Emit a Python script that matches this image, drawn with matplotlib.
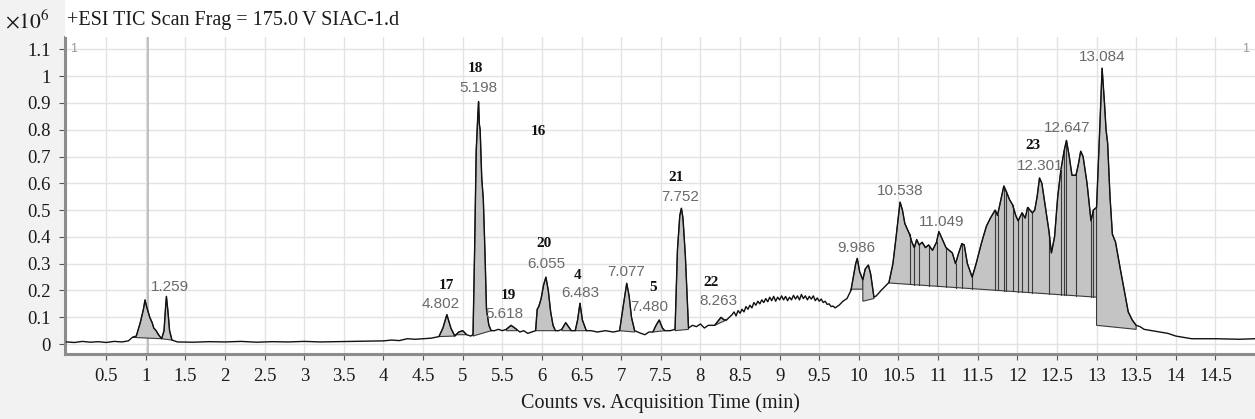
import numpy as np
import matplotlib.pyplot as plt
from matplotlib.patches import Rectangle

plt.rcParams['mathtext.fontset'] = 'stix'

# TIC trace, time (min) vs counts (x10^6)
# early part, 0 - 8.33 min
early_t = [0.00, 0.10, 0.20, 0.30, 0.40, 0.50, 0.60, 0.70, 0.78, 0.83, 0.88, 0.93, 0.97, 0.99,
           1.01, 1.03, 1.05, 1.08, 1.10, 1.13, 1.16, 1.20, 1.23, 1.25, 1.26, 1.28, 1.30, 1.33,
           1.40, 1.60, 1.80, 2.00, 2.20, 2.40, 2.60, 2.80, 3.00, 3.20, 3.40, 3.60, 3.80,
           4.00, 4.10, 4.20, 4.30, 4.40, 4.50, 4.60, 4.70, 4.75, 4.80, 4.85, 4.90, 4.95, 5.00,
           5.05, 5.10, 5.13, 5.15, 5.17, 5.19, 5.20, 5.21, 5.22, 5.24, 5.26, 5.28, 5.30, 5.33,
           5.36, 5.40, 5.45, 5.50, 5.55, 5.61, 5.68, 5.72, 5.77, 5.82, 5.87, 5.92, 5.94, 5.96,
           5.99, 6.02, 6.05, 6.08, 6.11, 6.14, 6.17, 6.21, 6.25, 6.30, 6.37, 6.42, 6.45, 6.48,
           6.51, 6.56, 6.62, 6.70, 6.80, 6.90, 6.98, 7.03, 7.07, 7.10, 7.13, 7.17, 7.25, 7.30,
           7.35, 7.40, 7.44, 7.48, 7.52, 7.55, 7.62, 7.68, 7.71, 7.74, 7.76, 7.78, 7.81, 7.85,
           7.90, 7.95, 8.00, 8.05, 8.10, 8.18, 8.22, 8.26, 8.30, 8.33]
early_i = [0.008, 0.006, 0.010, 0.007, 0.009, 0.006, 0.010, 0.008, 0.012, 0.025, 0.030, 0.080, 0.130, 0.165,
           0.140, 0.120, 0.100, 0.080, 0.060, 0.050, 0.035, 0.020, 0.050, 0.140, 0.178, 0.120, 0.050, 0.015,
           0.008, 0.007, 0.009, 0.008, 0.010, 0.007, 0.009, 0.008, 0.010, 0.008, 0.009, 0.010, 0.011,
           0.012, 0.015, 0.013, 0.020, 0.018, 0.020, 0.022, 0.028, 0.060, 0.110, 0.060, 0.030, 0.045, 0.050,
           0.035, 0.030, 0.035, 0.350, 0.720, 0.850, 0.905, 0.820, 0.800, 0.620, 0.540, 0.350, 0.130, 0.070,
           0.050, 0.050, 0.055, 0.050, 0.055, 0.070, 0.055, 0.045, 0.050, 0.040, 0.045, 0.050, 0.130, 0.140,
           0.170, 0.220, 0.250, 0.200, 0.120, 0.070, 0.050, 0.050, 0.055, 0.080, 0.050, 0.050, 0.090, 0.153,
           0.090, 0.050, 0.050, 0.045, 0.050, 0.045, 0.050, 0.150, 0.227, 0.180, 0.100, 0.050, 0.040, 0.035,
           0.045, 0.045, 0.070, 0.090, 0.060, 0.050, 0.050, 0.055, 0.350, 0.480, 0.507, 0.470, 0.330, 0.060,
           0.070, 0.065, 0.075, 0.060, 0.070, 0.070, 0.085, 0.100, 0.090, 0.090]

# noisy plateau, 8.4 - 9.75 min
mid_t = [8.400, 8.425, 8.450, 8.475, 8.500, 8.525, 8.550, 8.575, 8.600, 8.625, 8.650, 8.675, 8.700, 8.725,
         8.750, 8.775, 8.800, 8.825, 8.850, 8.875, 8.900, 8.925, 8.950, 8.975, 9.000, 9.025, 9.050, 9.075,
         9.100, 9.125, 9.150, 9.175, 9.200, 9.225, 9.250, 9.275, 9.300, 9.325, 9.350, 9.375, 9.400, 9.425,
         9.450, 9.475, 9.500, 9.525, 9.550, 9.575, 9.600, 9.625, 9.650, 9.675, 9.700, 9.725, 9.750]
mid_i = [0.110, 0.120, 0.105, 0.125, 0.115, 0.130, 0.120, 0.140, 0.130, 0.145, 0.135, 0.155, 0.145, 0.160,
         0.150, 0.165, 0.155, 0.170, 0.158, 0.175, 0.162, 0.178, 0.160, 0.175, 0.165, 0.180, 0.165, 0.178,
         0.162, 0.175, 0.165, 0.182, 0.168, 0.180, 0.165, 0.185, 0.170, 0.180, 0.165, 0.178, 0.168, 0.180,
         0.162, 0.172, 0.160, 0.168, 0.155, 0.160, 0.148, 0.150, 0.140, 0.142, 0.135, 0.140, 0.145]

# late part, 9.8 - 15 min
late_t = [9.80, 9.85, 9.90, 9.93, 9.96, 9.98, 10.01, 10.05, 10.08, 10.12, 10.15, 10.19, 10.22, 10.28,
          10.33, 10.38, 10.43, 10.47, 10.50, 10.52, 10.55, 10.58, 10.61, 10.64, 10.67, 10.70, 10.73,
          10.76, 10.80, 10.84, 10.88, 10.93, 10.98, 11.01, 11.04, 11.07, 11.10, 11.14, 11.18, 11.22,
          11.26, 11.30, 11.33, 11.37, 11.43, 11.48, 11.55, 11.61, 11.66, 11.72, 11.75, 11.80,
          11.83, 11.86, 11.90, 11.94, 11.98, 12.01, 12.06, 12.10, 12.13, 12.16, 12.19, 12.22,
          12.25, 12.28, 12.31, 12.36, 12.40, 12.43, 12.47, 12.51, 12.55, 12.59, 12.62, 12.65,
          12.69, 12.74, 12.77, 12.80, 12.83, 12.88, 12.93, 12.96, 13.00, 13.04, 13.07, 13.10,
          13.12, 13.14, 13.17, 13.20, 13.24, 13.30, 13.35, 13.40, 13.45, 13.50, 13.55, 13.60,
          13.70, 13.80, 13.90, 14.00, 14.10, 14.20, 14.50, 14.80, 15.00]
late_i = [0.160, 0.170, 0.200, 0.250, 0.300, 0.320, 0.270, 0.240, 0.280, 0.295, 0.260, 0.175, 0.180, 0.200,
          0.215, 0.230, 0.300, 0.400, 0.480, 0.530, 0.500, 0.450, 0.430, 0.410, 0.380, 0.360, 0.390,
          0.370, 0.380, 0.360, 0.370, 0.350, 0.380, 0.420, 0.400, 0.380, 0.360, 0.350, 0.340, 0.300,
          0.340, 0.375, 0.370, 0.300, 0.250, 0.300, 0.380, 0.440, 0.470, 0.500, 0.480, 0.550,
          0.590, 0.570, 0.540, 0.520, 0.480, 0.460, 0.490, 0.470, 0.510, 0.500, 0.490, 0.500,
          0.550, 0.620, 0.600, 0.500, 0.420, 0.340, 0.400, 0.550, 0.650, 0.720, 0.760, 0.710,
          0.630, 0.630, 0.670, 0.720, 0.700, 0.600, 0.460, 0.500, 0.510, 0.800, 1.030, 0.900,
          0.800, 0.750, 0.550, 0.410, 0.380, 0.280, 0.200, 0.120, 0.090, 0.070, 0.065, 0.055,
          0.050, 0.045, 0.040, 0.030, 0.025, 0.020, 0.020, 0.018, 0.020]

# integrated peaks: start, end, baseline at start, baseline at end
peak_start = [0.83, 1.20, 4.70, 4.90, 5.13, 5.55, 5.92, 6.25, 6.42, 6.98, 7.40, 7.68, 8.18, 9.90, 10.05, 10.38, 13.00]
peak_end = [1.20, 1.33, 4.90, 5.05, 5.36, 5.68, 6.17, 6.37, 6.56, 7.17, 7.55, 7.85, 8.33, 10.05, 10.19, 13.00, 13.50]
base_start = [0.025, 0.020, 0.028, 0.035, 0.030, 0.050, 0.050, 0.050, 0.050, 0.050, 0.045, 0.050, 0.070, 0.205, 0.160, 0.228, 0.070]
base_end = [0.020, 0.015, 0.030, 0.035, 0.050, 0.050, 0.050, 0.050, 0.050, 0.045, 0.050, 0.055, 0.090, 0.205, 0.170, 0.175, 0.055]

# drop lines splitting the 10.4-13 min hump
split_t = [10.64, 10.70, 10.76, 10.88, 10.98, 11.10, 11.22, 11.30, 11.43, 11.72, 11.75, 11.83, 11.86,
           11.94, 12.01, 12.06, 12.13, 12.19, 12.40, 12.55, 12.59, 12.62, 12.74, 12.93, 12.96]

# retention time labels
rt_text = ['1.259', '4.802', '5.198', '5.618', '6.055', '6.483', '7.077', '7.480', '7.752', '8.263',
           '9.986', '10.538', '11.049', '12.301', '12.647', '13.084']
rt_x = [1.305, 4.72, 5.20, 5.53, 6.05, 6.48, 7.06, 7.36, 7.74, 8.23, 9.97, 10.52, 11.04, 12.29, 12.63, 13.07]
rt_y = [0.213, 0.150, 0.955, 0.112, 0.300, 0.190, 0.270, 0.140, 0.550, 0.160, 0.360, 0.570, 0.455, 0.665, 0.805, 1.070]

# compound numbers
cpd_text = ['18', '16', '17', '19', '20', '4', '5', '21', '22', '23']
cpd_x = [5.16, 5.96, 4.79, 5.57, 6.02, 6.45, 7.40, 7.69, 8.13, 12.20]
cpd_y = [1.030, 0.795, 0.220, 0.183, 0.377, 0.257, 0.210, 0.620, 0.230, 0.740]

xticks = np.arange(0.5, 15.0, 0.5)
yticks = np.arange(0, 1.15, 0.1)

t = np.array(early_t + mid_t + late_t)
I = np.array(early_i + mid_i + late_i)

fig = plt.figure(figsize=(12.55, 4.19), dpi=100, facecolor='#f2f2f2')
fig.patches.append(Rectangle((65 / 1255, 1 - 37 / 419), 1, 37 / 419, transform=fig.transFigure,
                             facecolor='white', edgecolor='none', zorder=0))
ax = fig.add_axes([65 / 1255, 1 - 354 / 419, 1 - 65 / 1255, (354 - 37) / 419])
ax.set_facecolor('white')

ax.set_xlim(-0.02, 15.0)
ax.set_ylim(-0.037, 1.146)
ax.set_xticks(xticks)
ax.set_xticklabels(['%g' % v for v in xticks])
ax.set_yticks(yticks)
ax.set_yticklabels(['%g' % round(v, 1) for v in yticks])
ax.grid(True, color='#e3e3e3', lw=1)
ax.set_axisbelow(True)
ax.axvline(1.03, color='#b5b5b5', lw=1.2, zorder=1)

for s in ['top', 'right']:
    ax.spines[s].set_visible(False)
ax.spines['left'].set_color('#8c8c8c')
ax.spines['left'].set_linewidth(2.2)
ax.spines['bottom'].set_color('#8c8c8c')
ax.spines['bottom'].set_linewidth(2.2)
ax.tick_params(direction='out', length=4, color='#555555', labelsize=13.5, pad=6)
for lab in ax.get_xticklabels() + ax.get_yticklabels():
    lab.set_fontfamily('Liberation Serif')
    lab.set_color('#1a1a1a')

# shaded integrated peaks
for k in range(len(peak_start)):
    m = (t >= peak_start[k] - 1e-9) & (t <= peak_end[k] + 1e-9)
    px = np.concatenate([t[m], [peak_end[k], peak_start[k]]])
    py = np.concatenate([I[m], [base_end[k], base_start[k]]])
    ax.fill(px, py, facecolor='#c4c4c4', edgecolor='#3a3a3a', lw=0.8, zorder=2)

# drop lines in the large hump
k = peak_start.index(10.38)
for st in split_t:
    j = int(np.argmin(np.abs(t - st)))
    b = base_start[k] + (base_end[k] - base_start[k]) * (st - peak_start[k]) / (peak_end[k] - peak_start[k])
    ax.plot([st, st], [b, I[j]], color='#3a3a3a', lw=0.8, zorder=3)

ax.plot(t, I, color='#111111', lw=1.0, zorder=4)

for s, x, y in zip(rt_text, rt_x, rt_y):
    ax.text(x, y, s, ha='center', va='center', fontsize=11, color='#6a6a6a',
            family=['Liberation Sans Narrow', 'Liberation Sans'], zorder=5)
for s, x, y in zip(cpd_text, cpd_x, cpd_y):
    ax.text(x, y, s, ha='center', va='center', fontsize=11, color='#111111',
            family='Liberation Serif', fontweight='bold', zorder=5)

ax.text(0.05, 1.1, '1', ha='left', va='center', fontsize=9, color='#9a9a9a', family='Liberation Sans')
ax.text(14.93, 1.1, '1', ha='right', va='center', fontsize=9, color='#9a9a9a', family='Liberation Sans')

fig.text(5 / 1255, 1 - 21 / 419, r'$\times10^6$', ha='left', va='center', fontsize=15.5, color='#1a1a1a')
fig.text(67 / 1255, 1 - 20 / 419, '+ESI TIC Scan Frag = 175.0\u2009V SIAC-1.d', ha='left', va='center',
         fontsize=14.5, color='#1a1a1a', family='Liberation Serif')
ax.set_xlabel('Counts vs. Acquisition Time (min)', fontsize=14.5, family='Liberation Serif',
              color='#1a1a1a', labelpad=6)

fig.savefig('out.png', dpi=100, facecolor=fig.get_facecolor())
